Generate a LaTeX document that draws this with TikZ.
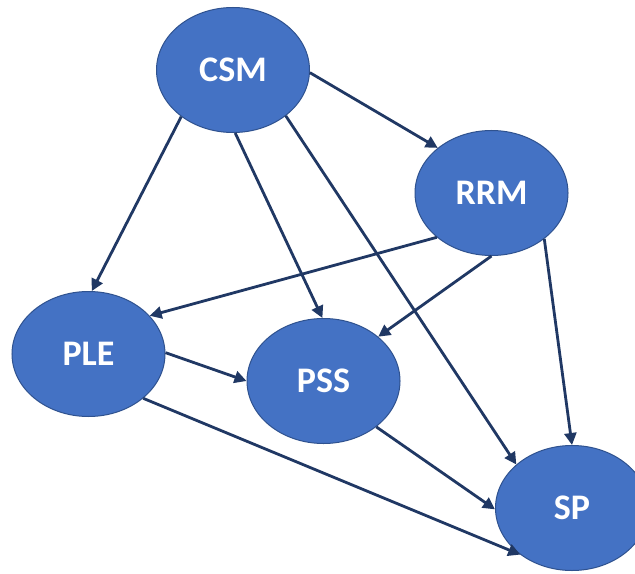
\documentclass[tikz,border=0pt]{standalone}
\usepackage{fontspec}
\setmainfont{Carlito}
\usetikzlibrary{arrows.meta,shapes.geometric}
\definecolor{nodefill}{HTML}{4472C4}
\definecolor{nodeline}{HTML}{2F528F}
\definecolor{edgecol}{HTML}{203864}
\begin{document}
\begin{tikzpicture}[x=1bp,y=-1bp,
  var/.style={ellipse, draw=nodeline, line width=1bp, fill=nodefill,
    minimum width=153bp, minimum height=125bp, inner sep=0pt,
    text=white, font=\fontsize{36bp}{40bp}\selectfont\bfseries},
  link/.style={draw=edgecol, line width=2.8bp,
    -{Triangle[length=12bp,width=12bp]}}]
\clip (0,0) rectangle (635,574);
\useasboundingbox (0,0) rectangle (635,574);
\fill[white] (0,0) rectangle (635,574);

\node[var] (csm) at (233,70)  {CSM};
\node[var] (rrm) at (491.5,193) {RRM};
\node[var] (ple) at (88.5,354) {PLE};
\node[var] (pss) at (323.5,381) {PSS};
\node[var] (sp)  at (572,508) {SP};

\draw[link] (csm.358)   -- (rrm.140.5);
\draw[link] (csm.222)   -- (ple.87);
\draw[link] (csm.272)   -- (pss.91);
\draw[link] (csm.319.5) -- (sp.142);
\draw[link] (rrm.219.5) -- (ple.32.8);
\draw[link] (rrm.270)   -- (pss.39.5);
\draw[link] (rrm.319)   -- (sp.90);
\draw[link] (ple.1)     -- (pss.180);
\draw[link] (ple.321.5) -- (sp.222);
\draw[link] (pss.319)   -- (sp.181.6);
\end{tikzpicture}
\end{document}
